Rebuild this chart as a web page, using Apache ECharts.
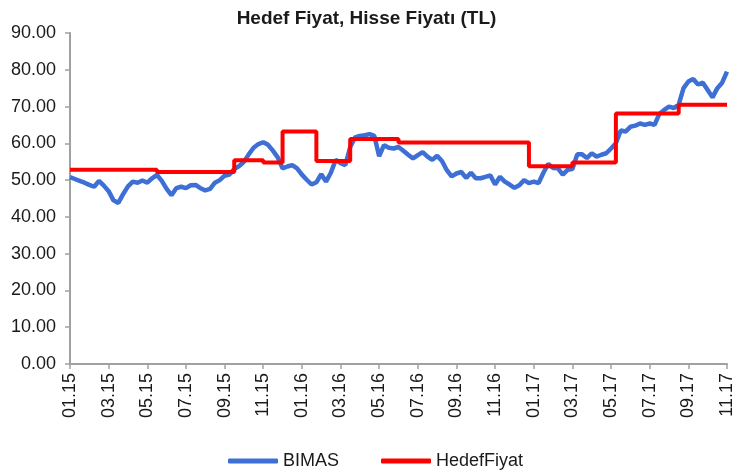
<!DOCTYPE html>
<html>
<head>
<meta charset="utf-8">
<script src="https://cdn.jsdelivr.net/npm/echarts@6/dist/echarts.min.js"></script>
<style>html,body{margin:0;padding:0;background:#fff;}#c{width:733px;height:470px;}</style>
</head>
<body>
<div id="c"></div>
<script>
var titleText = 'Hedef Fiyat, Hisse Fiyatı (TL)';
var tickLabels = ['01.15','03.15','05.15','07.15','09.15','11.15','01.16','03.16','05.16','07.16','09.16','11.16','01.17','03.17','05.17','07.17','09.17','11.17'];
var pointsPerTick = 8;
var bimas = [
50.8,50.3,49.8,49.3,48.7,48.2,49.8,48.5,47.0,44.5,
43.8,46.2,48.3,49.6,49.3,49.9,49.3,50.5,51.4,49.8,
47.6,45.9,47.8,48.2,47.8,48.6,48.7,47.8,47.2,47.6,
49.3,50.0,51.2,51.5,53.0,53.8,55.0,57.0,58.8,59.8,
60.3,59.6,58.0,56.2,53.2,53.7,54.1,53.2,51.5,50.1,
48.8,49.4,51.6,49.6,52.0,55.5,54.6,54.1,59.0,61.6,
62.0,62.2,62.5,62.0,56.5,59.5,58.8,58.6,59.0,58.0,
56.9,55.9,56.8,57.6,56.4,55.5,56.6,55.2,52.7,51.0,
51.8,52.2,50.6,52.0,50.5,50.5,50.9,51.3,48.8,50.9,
49.6,48.8,47.9,48.6,50.0,49.2,49.6,49.2,52.0,54.4,
53.3,53.2,51.5,52.8,53.0,57.0,57.0,56.0,57.3,56.4,
56.9,57.3,58.6,60.0,63.5,63.2,64.5,64.8,65.4,65.0,
65.4,65.0,68.0,69.1,70.0,69.6,70.5,75.0,76.8,77.5,
76.0,76.5,74.5,72.5,75.0,76.5,79.5
];
var targetIdx = [0,18,34,40,44,51,58,68,95,104,113,126,136];
var targetVal = [52.8,52.2,55.4,54.8,63.2,55.2,61.2,60.2,53.8,54.8,68.1,70.5,70.5];

var categories = bimas.map(function(v,i){ return i % pointsPerTick === 0 ? tickLabels[i/pointsPerTick] : ''; });
var target = targetIdx.map(function(x,i){ return [x, targetVal[i]]; });
var font = '"Liberation Sans", Arial, sans-serif';
var showTick = function(i){ return i % pointsPerTick === 0; };

var chart = echarts.init(document.getElementById('c'), null, {renderer:'canvas'});
chart.setOption({
  animation: false,
  backgroundColor: '#fff',
  title: {
    text: titleText, left: 'center', top: 4,
    textStyle: {fontFamily: font, fontSize: 19, fontWeight: 'bold', color: '#1a1a1a'}
  },
  legend: {
    left: 223, top: 447, itemWidth: 50, itemHeight: 5, itemGap: 42, icon: 'roundRect',
    textStyle: {fontFamily: font, fontSize: 18, color: '#1a1a1a'},
    data: ['BIMAS', 'HedefFiyat']
  },
  grid: {left: 70, right: 6, top: 33, bottom: 106, containLabel: false, outerBoundsMode: 'none'},
  xAxis: {
    type: 'category', data: categories, boundaryGap: false,
    axisLine: {lineStyle: {color: '#a0a0a0', width: 2}},
    axisTick: {show: true, interval: showTick, length: 5, lineStyle: {color: '#a0a0a0', width: 1.5}},
    axisLabel: {interval: showTick, rotate: 90, margin: 9, fontFamily: font, fontSize: 18, color: '#1a1a1a'},
    splitLine: {show: false}
  },
  yAxis: {
    type: 'value', min: 0, max: 90, interval: 10,
    axisLine: {show: true, lineStyle: {color: '#a0a0a0', width: 2}},
    axisTick: {show: true, length: 5, lineStyle: {color: '#a0a0a0', width: 1.5}},
    axisLabel: {margin: 14, fontFamily: font, fontSize: 18, color: '#1a1a1a', formatter: function(v){ return v.toFixed(2); }},
    splitLine: {show: false}
  },
  series: [
    {name: 'BIMAS', type: 'line', data: bimas, showSymbol: false, symbol: 'none',
     lineStyle: {color: '#3d6fd4', width: 4.5}, itemStyle: {color: '#3d6fd4'}, z: 2},
    {name: 'HedefFiyat', type: 'line', data: target, step: 'end', showSymbol: false, symbol: 'none',
     lineStyle: {color: '#ff0000', width: 4}, itemStyle: {color: '#ff0000'}, z: 3}
  ]
});
</script>
</body>
</html>
